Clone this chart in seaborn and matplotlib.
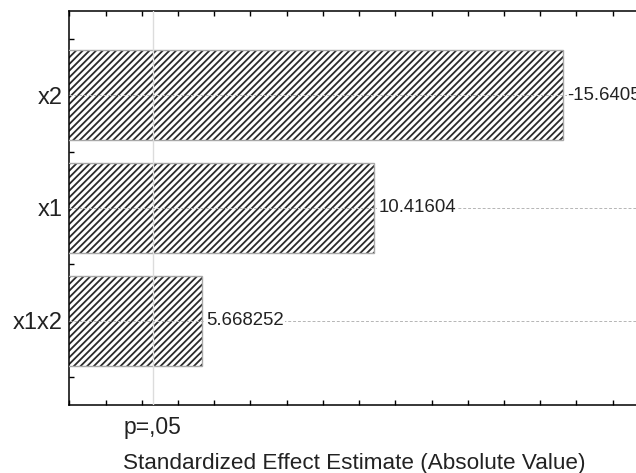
import numpy as np
import pandas as pd
import matplotlib
matplotlib.use("Agg")
import matplotlib.pyplot as plt
from matplotlib.patches import Rectangle
from matplotlib.ticker import MultipleLocator, FixedLocator
import seaborn as sns

# Pareto chart of standardized effects
factors = ["x2", "x1", "x1x2"]
effects = [-15.6405, 10.41604, 5.668252]
effect_labels = ["-15.6405", "10.41604", "5.668252"]
p_critical = 4.303
p_label = "p=,05"
x_title = "Standardized Effect Estimate (Absolute Value)"

sns.set_theme(style="white")
plt.rcParams["font.family"] = ["Liberation Sans", "DejaVu Sans"]
plt.rcParams["hatch.linewidth"] = 1.3

df = pd.DataFrame({"factor": factors, "abs_effect": np.abs(effects)})

fig = plt.figure(figsize=(6.36, 4.73), dpi=100)
ax = fig.add_axes([0.109, 0.1438, 0.897, 0.8330])

sns.barplot(data=df, x="abs_effect", y="factor", orient="h", color="white",
            width=0.8, ax=ax, zorder=2)

for patch in ax.patches:
    patch.set_facecolor("white")
    patch.set_edgecolor("#2a2a2a")
    patch.set_linewidth(0)
    patch.set_hatch("/////")
    ax.add_patch(Rectangle(patch.get_xy(), patch.get_width(), patch.get_height(),
                           fill=False, edgecolor="#a8a8a8", linewidth=1.0, zorder=3))

ax.set_xlim(2, 17.75)
ax.set_ylim(2.75, -0.75)

# significance threshold
ax.axvline(p_critical, color="#dcdcdc", linewidth=1.0, zorder=4)

# leader lines and value labels
for i, (val, lab) in enumerate(zip(effects, effect_labels)):
    ax.axhline(i, color="#b5b5b5", linewidth=0.7, linestyle=(0, (3, 2)), zorder=4)
    ax.annotate(lab, xy=(abs(val), i), xytext=(3, 0), textcoords="offset points",
                va="center", ha="left", fontsize=13.4, color="#222222", zorder=5,
                bbox=dict(boxstyle="square,pad=0.05", facecolor="white", edgecolor="none"))

# axes styling
for side in ["left", "top", "bottom"]:
    ax.spines[side].set_visible(True)
    ax.spines[side].set_color("#000000")
    ax.spines[side].set_linewidth(1.1)
ax.spines["right"].set_visible(False)

ax.xaxis.set_major_locator(FixedLocator([p_critical]))
ax.set_xticklabels([p_label])
ax.xaxis.set_minor_locator(MultipleLocator(1))
ax.tick_params(axis="x", which="major", length=0, pad=8, labelsize=16.5, labelcolor="#222222")
ax.tick_params(axis="x", which="minor", direction="in", length=3.5, width=1,
               color="#000000", top=True, bottom=True)

ax.yaxis.set_minor_locator(FixedLocator([-0.5, -0.25, 0.25, 0.5, 0.75, 1.25, 1.5, 1.75, 2.25, 2.5]))
ax.tick_params(axis="y", which="major", direction="in", length=3.5, width=1, color="#000000",
               pad=5, labelsize=17, labelcolor="#222222", left=True)
ax.tick_params(axis="y", which="minor", direction="in", length=3.5, width=1,
               color="#000000", left=True)

ax.set_ylabel("")
ax.set_xlabel(x_title, fontsize=16.2, color="#222222", labelpad=10)

fig.savefig("out.png", dpi=100)
